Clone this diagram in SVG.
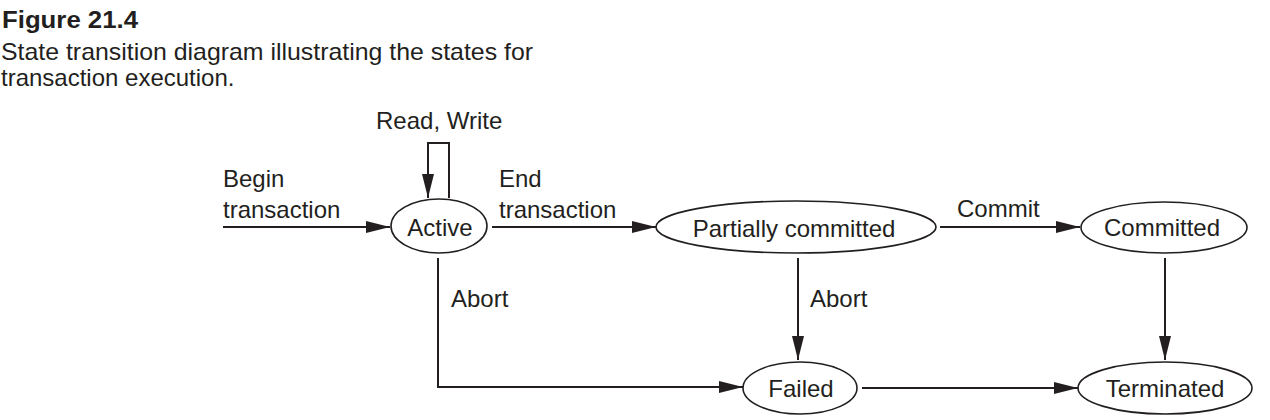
<svg xmlns="http://www.w3.org/2000/svg" width="1270" height="420" viewBox="0 0 1270 420">
<defs>
<marker id="arr" markerWidth="24" markerHeight="12" refX="24" refY="6" orient="auto" markerUnits="userSpaceOnUse">
<path d="M0,0 L24,6 L0,12 Z" fill="#231f20"/>
</marker>
<style>
text{font-family:"Liberation Sans",Arial,sans-serif;fill:#231f20;font-size:24px}
.t{font-weight:bold}
ellipse{fill:#fff;stroke:#231f20;stroke-width:1.6}
.c path{fill:none;stroke:#231f20;stroke-width:2}
.n text{text-anchor:middle}
</style>
</defs>
<rect width="1270" height="420" fill="#fff"/>
<g id="caption">
<text class="t" x="2" y="28" textLength="136" lengthAdjust="spacingAndGlyphs">Figure 21.4</text>
<text x="1" y="60" textLength="532" lengthAdjust="spacingAndGlyphs">State transition diagram illustrating the states for</text>
<text x="1" y="86">transaction execution.</text>
</g>
<g class="c" id="connectors">
<path d="M223,227 H390" marker-end="url(#arr)"/>
<path d="M449,198 V143 H428 V198" marker-end="url(#arr)"/>
<path d="M492,227 H656" marker-end="url(#arr)"/>
<path d="M940,227 H1080" marker-end="url(#arr)"/>
<path d="M438,258 V387 H743" marker-end="url(#arr)"/>
<path d="M798,258 V360" marker-end="url(#arr)"/>
<path d="M1165,258 V360" marker-end="url(#arr)"/>
<path d="M862,388 H1078" marker-end="url(#arr)"/>
</g>
<g id="labels">
<text x="376" y="129">Read, Write</text>
<text x="223" y="187">Begin</text>
<text x="223" y="218">transaction</text>
<text x="499" y="187">End</text>
<text x="499" y="218">transaction</text>
<text x="957" y="217">Commit</text>
<text x="451" y="307">Abort</text>
<text x="810" y="307">Abort</text>
</g>
<g class="n" id="active"><ellipse cx="439" cy="226" rx="48" ry="27"/><text x="440" y="236">Active</text></g>
<g class="n" id="partially"><ellipse cx="796" cy="227" rx="140" ry="26"/><text x="794" y="237">Partially committed</text></g>
<g class="n" id="committed"><ellipse cx="1164" cy="227.5" rx="83" ry="25.5"/><text x="1162" y="236">Committed</text></g>
<g class="n" id="failed"><ellipse cx="800" cy="388" rx="57" ry="26"/><text x="801" y="397">Failed</text></g>
<g class="n" id="terminated"><ellipse cx="1165" cy="388" rx="87" ry="26"/><text x="1165" y="397">Terminated</text></g>
</svg>
